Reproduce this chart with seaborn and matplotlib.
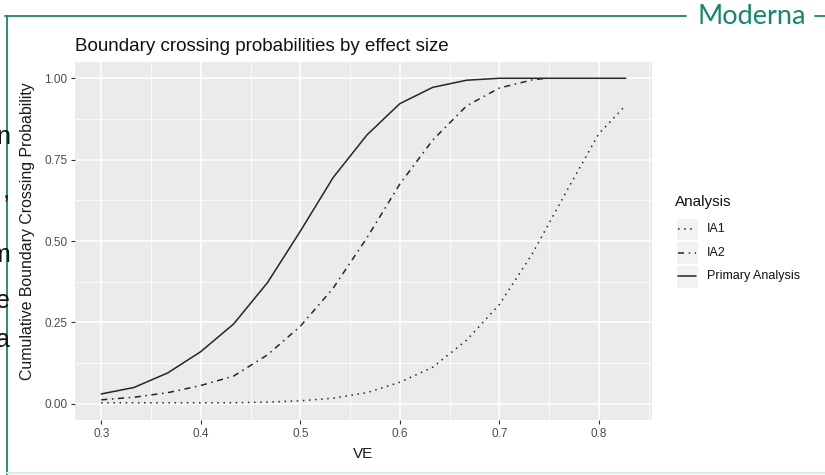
import numpy as np
import pandas as pd
import matplotlib
matplotlib.use("Agg")
import matplotlib.pyplot as plt
import seaborn as sns
from matplotlib.lines import Line2D
from matplotlib.patches import Rectangle

# ---------------- data ----------------
ve_grid = [0.300, 0.333, 0.367, 0.400, 0.433, 0.467, 0.500, 0.533, 0.567,
           0.600, 0.633, 0.667, 0.700, 0.733, 0.767, 0.800, 0.827]
ia1_prob = [0.003, 0.003, 0.003, 0.003, 0.003, 0.005, 0.009, 0.017, 0.034,
            0.066, 0.112, 0.195, 0.305, 0.46, 0.65, 0.83, 0.917]
ia2_ve = [0.300, 0.333, 0.367, 0.400, 0.433, 0.467, 0.500, 0.533, 0.567,
          0.600, 0.633, 0.667, 0.700, 0.733, 0.747]
ia2_prob = [0.012, 0.020, 0.034, 0.056, 0.085, 0.15, 0.238, 0.355, 0.51,
            0.675, 0.81, 0.915, 0.970, 0.995, 1.0]
primary_prob = [0.030, 0.050, 0.095, 0.160, 0.245, 0.372, 0.530, 0.695, 0.826,
                0.922, 0.972, 0.994, 1.0, 1.0, 1.0, 1.0, 1.0]

analysis_names = ["IA1", "IA2", "Primary Analysis"]
x_ticks = [0.3, 0.4, 0.5, 0.6, 0.7, 0.8]
x_tick_labels = ["0.3", "0.4", "0.5", "0.6", "0.7", "0.8"]
y_ticks = [0.0, 0.25, 0.5, 0.75, 1.0]
y_tick_labels = ["0.00", "0.25", "0.50", "0.75", "1.00"]

title_text = "Boundary crossing probabilities by effect size"
x_label = "VE"
y_label = "Cumulative Boundary Crossing Probability"
legend_title = "Analysis"
brand_text = "Moderna"
fragment_letters = ["n", ",", "m", "e", "a"]

df = pd.concat([
    pd.DataFrame({"VE": ve_grid, "prob": ia1_prob, "Analysis": analysis_names[0]}),
    pd.DataFrame({"VE": ia2_ve, "prob": ia2_prob, "Analysis": analysis_names[1]}),
    pd.DataFrame({"VE": ve_grid, "prob": primary_prob, "Analysis": analysis_names[2]}),
], ignore_index=True)

# ---------------- style ----------------
sns.set_theme(style="white")
plt.rcParams["font.family"] = ["Liberation Sans", "DejaVu Sans"]

W, H = 825, 475
fig = plt.figure(figsize=(W / 100, H / 100), dpi=100)
fig.patch.set_facecolor("white")


def fx(px):
    return px / W


def fy(py):
    return 1 - py / H


green = "#16876a"
line_col = "#262626"

# panel
pl, pr, pt, pb = 75, 652, 62, 420
ax = fig.add_axes([fx(pl), fy(pb), fx(pr) - fx(pl), fy(pt) - fy(pb)])
ax.set_facecolor("#EBEBEB")

dash_map = {"IA1": (1, 3), "IA2": (4, 3, 1, 3), "Primary Analysis": ""}
sns.lineplot(data=df, x="VE", y="prob", style="Analysis", dashes=dash_map,
             color=line_col, linewidth=1.1, legend=False, ax=ax,
             estimator=None, sort=False)

xmin, xmax = df["VE"].min(), df["VE"].max()
xr = xmax - xmin
ax.set_xlim(xmin - 0.05 * xr, xmax + 0.05 * xr)
ax.set_ylim(-0.05, 1.05)

ax.set_xticks(x_ticks)
ax.set_xticklabels(x_tick_labels)
ax.set_yticks(y_ticks)
ax.set_yticklabels(y_tick_labels)
ax.set_xticks([v + 0.05 for v in x_ticks], minor=True)
ax.set_yticks([v + 0.125 for v in y_ticks[:-1]], minor=True)
ax.grid(which="major", color="white", linewidth=1.1)
ax.grid(which="minor", color="white", linewidth=0.55)
ax.set_axisbelow(True)
for s in ax.spines.values():
    s.set_visible(False)
ax.tick_params(which="major", direction="out", length=3, width=0.8,
               color="#333333", labelcolor="#4D4D4D", labelsize=8.5, pad=2.5)
ax.tick_params(which="minor", length=0)
ax.tick_params(axis="x", bottom=True)
ax.tick_params(axis="y", left=True)

ax.set_xlabel(x_label, fontsize=11, color="#1a1a1a", labelpad=5)
ax.set_ylabel(y_label, fontsize=11.4, color="#1a1a1a")
ax.yaxis.set_label_coords((35 - pl) / (pr - pl), (pb - 231) / (pb - pt))
ax.set_title(title_text, loc="left", fontsize=13.5, color="#111111", pad=8)

# ---------------- manual ggplot-like legend ----------------
fig.text(fx(675), fy(202), legend_title, fontsize=11, color="#111111",
         ha="left", va="center")
row_y = [229, 252.5, 276]
key_h = 23
for name, ry in zip(analysis_names, row_y):
    fig.add_artist(Rectangle((fx(676), fy(ry + key_h / 2)), fx(698) - fx(676),
                             key_h / H, transform=fig.transFigure,
                             facecolor="#F2F2F2", edgecolor="white", lw=0.8))
    ln = Line2D([fx(678), fx(696)], [fy(ry), fy(ry)], transform=fig.transFigure,
                color=line_col, lw=1.1)
    if dash_map[name]:
        ln.set_dashes(dash_map[name])
    fig.add_artist(ln)
    fig.text(fx(707), fy(ry), name, fontsize=9, color="#111111",
             ha="left", va="center")

# ---------------- slide frame ----------------
fig.add_artist(Line2D([fx(5), fx(686)], [fy(16), fy(16)], transform=fig.transFigure,
                      color=green, lw=1.3))
fig.add_artist(Line2D([fx(815), fx(825)], [fy(16), fy(16)], transform=fig.transFigure,
                      color=green, lw=1.3))
fig.add_artist(Line2D([fx(6.5), fx(6.5)], [fy(16), fy(475)], transform=fig.transFigure,
                      color=green, lw=1.3))
fig.add_artist(Line2D([fx(7), fx(825)], [fy(473), fy(473)], transform=fig.transFigure,
                      color="#d4efe8", lw=1.5))
fig.text(fx(698), fy(16), brand_text, fontsize=19.5, color=green,
         family=["Lato", "DejaVu Sans"], ha="left", va="center")

# slide text fragments peeking out on the left
frag_y = [137, 192, 255, 301, 340]
for ch, yy in zip(fragment_letters, frag_y):
    fig.text(fx(10), fy(yy), ch, fontsize=18, color="#111111", ha="right",
             va="center", family=["Liberation Sans", "DejaVu Sans"])

fig.savefig("out.png", dpi=100, facecolor="white")
